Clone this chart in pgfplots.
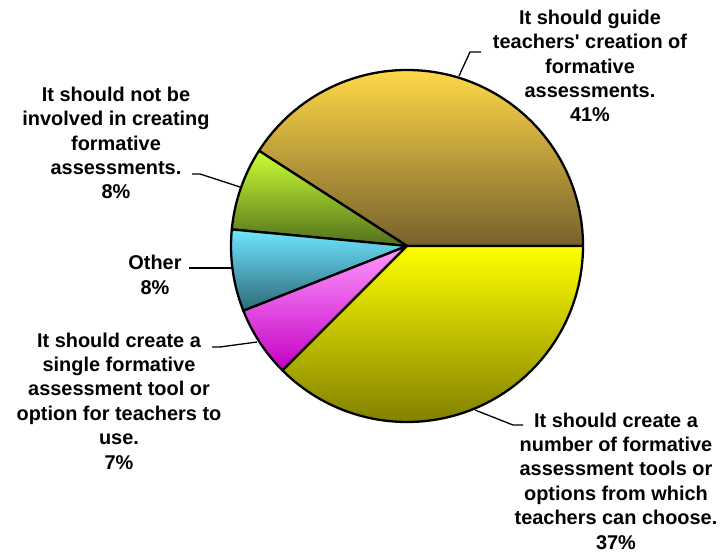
\documentclass[border=0pt]{standalone}
\usepackage{pgfplots}
\usepackage{pgfplotstable}
\pgfplotsset{compat=1.18}
\usepackage{fontspec}
\setmainfont{Liberation Sans}[Ligatures=TeXOff]

% slice colours, counterclockwise from 3 o'clock
\definecolor{sliceTop0}{HTML}{FFD848}
\definecolor{sliceBot0}{HTML}{76602C}
\definecolor{sliceTop1}{HTML}{CCFF33}
\definecolor{sliceBot1}{HTML}{50701C}
\definecolor{sliceTop2}{HTML}{6EE6FF}
\definecolor{sliceBot2}{HTML}{2E6878}
\definecolor{sliceTop3}{HTML}{FF99FF}
\definecolor{sliceBot3}{HTML}{C400C4}
\definecolor{sliceTop4}{HTML}{FFFF00}
\definecolor{sliceBot4}{HTML}{767400}

\pgfplotstableread{
share
40.9
7.6
7.5
6.5
37.5
}\pietab
\pgfplotstablecreatecol[create col/expr accum={\pgfmathaccuma + \thisrow{share}}{0}]{cum}\pietab

\tikzset{lbl/.style={font=\bfseries\fontsize{20}{24.5}\selectfont, align=center, inner sep=0pt}}

\begin{document}
\begin{tikzpicture}
  \begin{axis}[
    x=1bp, y=1bp,
    xmin=0, xmax=724,
    ymin=0, ymax=552,
    hide axis,
    clip=false,
  ]
    \pgfplotsinvokeforeach{0,...,4}{
      \pgfplotsextra{
        \pgfplotstablegetelem{#1}{share}\of\pietab
        \pgfmathsetmacro\sharev{\pgfplotsretval}
        \pgfplotstablegetelem{#1}{cum}\of\pietab
        \pgfmathsetmacro\cumv{\pgfplotsretval}
        \pgfmathsetmacro\aend{3.6*\cumv}
        \pgfmathsetmacro\astart{3.6*(\cumv-\sharev)}
        \path[draw=black, line width=2.3bp, line join=round,
              top color=sliceTop#1, bottom color=sliceBot#1]
          (axis cs:407,306) -- ++(\astart:176bp)
          arc[start angle=\astart, end angle=\aend, radius=176bp] -- cycle;
      }
    }

    % leader lines
    \draw[line width=1.3bp] (axis cs:459,476) -- (axis cs:470,500) -- (axis cs:481,500);
    \draw[line width=1.3bp] (axis cs:240,365) -- (axis cs:200,378) -- (axis cs:192,378);
    \draw[line width=1.3bp] (axis cs:232,284) -- (axis cs:189,284);
    \draw[line width=1.3bp] (axis cs:257,210) -- (axis cs:220,205) -- (axis cs:212,205);
    \draw[line width=1.3bp] (axis cs:475,142) -- (axis cs:513,127) -- (axis cs:523,127);

    \node[lbl] at (axis cs:590,486) {It should guide\\teachers' creation of\\formative\\assessments.\\41\%};
    \node[lbl] at (axis cs:116,409) {It should not be\\involved in creating\\formative\\assessments.\\8\%};
    \node[lbl] at (axis cs:155,277) {Other\\8\%};
    \node[lbl] at (axis cs:119,151) {It should create a\\single formative\\assessment tool or\\option for teachers to\\use.\\7\%};
    \node[lbl] at (axis cs:616,71) {It should create a\\number of formative\\assessment tools or\\options from which\\teachers can choose.\\37\%};
  \end{axis}
  \pgfresetboundingbox
  \useasboundingbox (current axis.south west) rectangle (current axis.north east);
\end{tikzpicture}
\end{document}
